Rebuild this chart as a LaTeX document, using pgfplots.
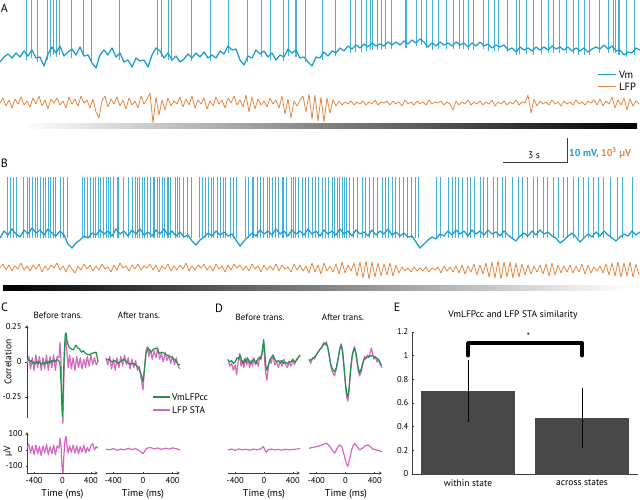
\documentclass[border=0pt]{standalone}
\usepackage{pgfplots}
\pgfplotsset{compat=1.18}
\usepackage{fontspec}
\setmainfont{PT Sans}
\definecolor{vmblue}{RGB}{30,158,208}
\definecolor{spkblue}{RGB}{70,175,218}
\definecolor{lfporange}{RGB}{228,136,66}
\definecolor{ccgreen}{RGB}{28,148,72}
\definecolor{stapink}{RGB}{214,104,192}
\definecolor{bargray}{RGB}{72,72,72}
\definecolor{axgray}{RGB}{60,60,60}
\newcommand{\fs}[1]{\fontsize{#1}{#1}\selectfont}
\pgfplotsset{
  every axis/.append style={/pgf/number format/assume math mode=true},
  small axis/.style={scale only axis, anchor=south west, clip=false,
     xmin=-500, xmax=500, axis line style={-, axgray, line width=0.5pt},
     tick style={axgray, line width=0.5pt}, major tick length=2pt,
     tick label style={font=\fs{8.5}}},
  corr axis/.style={small axis, height=93pt, ymin=-0.4, ymax=0.264},
  sta axis/.style={small axis, height=41pt, ymin=-145, ymax=112,
     axis x line=bottom, xtick={-400,0,400}, xticklabels={-400,0,400}},
  pinkline/.style={stapink, line width=1.2pt, line join=round},
  greenline/.style={ccgreen, line width=1.2pt, line join=round},
}
\begin{document}
\begin{tikzpicture}
\useasboundingbox (0,0) rectangle (640pt,499pt);
% ---------------- traces A and B (x and y in pixels, y downward)
\begin{axis}[at={(0pt,0pt)}, anchor=south west, scale only axis, width=640pt, height=499pt,
  xmin=0, xmax=640, ymin=0, ymax=499, y dir=reverse, hide axis]
% A spikes
\addplot[spkblue, line width=0.9pt, quiver={u=0, v=-\thisrow{y}}] table[x=x, y=y, row sep=\\] {
x y\\26 60\\31 58\\37 62\\47 60\\50 57\\53 55\\56 57\\59 55\\71 58\\83 55\\91 63\\119 60\\157 55\\161 57\\168 60\\171 61\\191 61\\210 61\\228 53\\247 62\\261 57\\270 60\\283 61\\288 56\\295 57\\296 57\\305 62\\322 60\\335 56\\350 53\\355 52\\361 52\\366 51\\370 50\\372 50\\377 50\\381 50\\385 49\\391 49\\405 48\\406 48\\416 46\\421 45\\426 48\\432 50\\438 49\\446 49\\453 49\\459 49\\463 49\\468 50\\473 50\\483 49\\488 51\\494 51\\498 51\\507 52\\516 55\\519 54\\526 54\\533 55\\541 54\\548 53\\553 53\\559 53\\566 53\\573 54\\578 55\\584 55\\589 55\\599 53\\608 53\\613 53\\615 53\\618 55\\619 55\\626 57\\634 55\\
};
% A Vm
\addplot[vmblue, line width=1.3pt, line join=round] table[header=false, x expr=\coordindex*4, y index=0, row sep=\\] {
62\\57\\54\\58\\53\\57\\51\\56\\50\\58\\57\\66\\54\\47\\53\\46\\56\\52\\49\\55\\47\\56\\55\\63\\68\\55\\50\\55\\48\\57\\53\\62\\60\\67\\58\\61\\60\\67\\55\\48\\51\\58\\53\\60\\56\\62\\59\\54\\58\\53\\57\\52\\58\\55\\58\\51\\54\\46\\50\\49\\60\\65\\56\\58\\50\\54\\51\\57\\53\\60\\55\\57\\49\\53\\50\\58\\57\\62\\66\\57\\58\\52\\56\\51\\53\\48\\51\\46\\49\\45\\48\\44\\47\\43\\46\\44\\46\\42\\45\\42\\45\\41\\44\\40\\43\\39\\42\\47\\43\\46\\42\\45\\43\\46\\42\\45\\43\\47\\43\\46\\42\\46\\44\\48\\45\\47\\45\\50\\48\\52\\47\\50\\48\\51\\47\\50\\47\\50\\46\\49\\47\\50\\47\\51\\48\\51\\48\\52\\49\\47\\49\\45\\49\\46\\51\\50\\55\\52\\53\\48\\50\\
};
% A LFP
\addplot[lfporange, line width=0.8pt, line join=round] table[header=false, x expr=\coordindex*3, y index=0, row sep=\\] {
103\\98\\106\\100\\108\\99\\104\\97\\105\\101\\107\\98\\104\\96\\106\\100\\109\\99\\103\\98\\105\\101\\108\\97\\104\\99\\106\\96\\103\\100\\108\\99\\112\\118\\101\\96\\107\\99\\104\\97\\106\\100\\109\\98\\105\\101\\108\\96\\104\\99\\93\\123\\97\\115\\100\\110\\98\\106\\101\\104\\97\\107\\99\\105\\96\\108\\100\\104\\98\\109\\101\\106\\97\\104\\100\\108\\98\\103\\96\\105\\100\\107\\95\\112\\97\\109\\99\\105\\101\\107\\98\\104\\100\\108\\96\\114\\99\\118\\101\\106\\100\\96\\112\\94\\119\\95\\121\\97\\122\\98\\113\\100\\106\\101\\105\\102\\104\\101\\105\\102\\104\\101\\105\\102\\104\\100\\105\\102\\103\\101\\105\\101\\104\\102\\106\\100\\104\\102\\105\\101\\104\\102\\105\\100\\104\\102\\103\\101\\105\\102\\104\\110\\101\\105\\102\\104\\100\\105\\102\\104\\101\\105\\102\\104\\100\\106\\102\\104\\101\\105\\102\\104\\100\\105\\102\\103\\95\\113\\99\\106\\101\\104\\102\\105\\100\\104\\102\\106\\101\\104\\102\\105\\100\\104\\102\\105\\101\\103\\100\\105\\99\\106\\101\\104\\97\\108\\100\\105\\98\\110\\99\\106\\101\\104\\
};
% B spikes
\addplot[spkblue, line width=0.9pt, quiver={u=0, v=-61}] table[header=false, x index=0, y expr=238, row sep=\\] {
7\\10\\13\\16\\23\\27\\29\\32\\35\\37\\40\\43\\45\\48\\50\\53\\55\\60\\63\\67\\82\\84\\87\\90\\93\\95\\98\\100\\103\\106\\108\\110\\113\\117\\118\\123\\128\\132\\135\\137\\139\\142\\144\\147\\150\\153\\154\\157\\159\\162\\164\\167\\168\\170\\175\\177\\179\\183\\187\\191\\199\\202\\205\\208\\211\\213\\217\\220\\223\\225\\230\\233\\236\\245\\248\\252\\253\\257\\260\\263\\267\\269\\272\\275\\278\\282\\283\\286\\291\\293\\295\\298\\302\\305\\308\\312\\315\\318\\322\\325\\328\\332\\334\\337\\339\\342\\344\\346\\349\\353\\357\\362\\365\\369\\373\\377\\382\\385\\388\\392\\395\\399\\403\\407\\411\\415\\418\\436\\440\\448\\452\\455\\458\\462\\467\\470\\474\\480\\483\\487\\493\\497\\502\\505\\512\\518\\522\\527\\533\\537\\543\\547\\553\\558\\563\\567\\573\\578\\583\\588\\593\\598\\603\\610\\617\\622\\632\\
};
% B Vm
\addplot[vmblue, line width=1.3pt, line join=round] table[header=false, x expr=\coordindex*4, y index=0, row sep=\\] {
238\\231\\235\\229\\234\\237\\230\\234\\228\\233\\230\\235\\229\\233\\236\\231\\235\\244\\248\\243\\240\\236\\238\\233\\235\\230\\234\\231\\236\\229\\234\\231\\236\\230\\234\\229\\235\\232\\236\\230\\234\\229\\235\\231\\236\\232\\237\\235\\241\\245\\240\\237\\233\\236\\231\\235\\232\\236\\234\\240\\246\\241\\237\\233\\236\\230\\234\\231\\235\\229\\234\\231\\236\\230\\234\\231\\235\\229\\234\\231\\236\\230\\234\\231\\235\\229\\234\\231\\236\\230\\234\\232\\236\\230\\235\\231\\234\\229\\235\\232\\236\\233\\237\\236\\242\\248\\244\\240\\237\\239\\234\\236\\231\\235\\230\\234\\231\\236\\230\\234\\231\\235\\230\\234\\232\\236\\231\\235\\238\\241\\236\\233\\236\\231\\235\\230\\234\\232\\236\\238\\243\\240\\236\\233\\237\\242\\238\\234\\237\\232\\236\\231\\235\\238\\241\\237\\234\\236\\231\\235\\232\\
};
% B LFP
\addplot[lfporange, line width=0.8pt, line join=round] table[header=false, x expr=\coordindex*3, y index=0, row sep=\\] {
268\\264\\270\\265\\271\\266\\269\\263\\270\\266\\271\\265\\269\\264\\272\\266\\270\\265\\268\\263\\270\\266\\272\\265\\269\\273\\266\\270\\264\\269\\265\\271\\266\\270\\264\\269\\267\\272\\265\\270\\263\\268\\266\\271\\265\\269\\264\\270\\266\\268\\264\\270\\265\\272\\266\\269\\264\\271\\266\\270\\265\\269\\263\\271\\266\\270\\265\\268\\264\\270\\266\\271\\264\\269\\266\\272\\265\\270\\264\\268\\265\\270\\266\\271\\264\\269\\266\\272\\265\\270\\266\\270\\264\\271\\265\\269\\267\\272\\264\\270\\265\\271\\266\\273\\263\\272\\265\\274\\263\\271\\266\\272\\264\\274\\262\\273\\265\\271\\263\\276\\262\\278\\261\\279\\262\\277\\263\\276\\264\\275\\263\\276\\265\\273\\267\\271\\268\\272\\267\\271\\268\\271\\267\\272\\268\\270\\267\\273\\266\\271\\267\\272\\266\\273\\265\\274\\266\\272\\264\\275\\265\\274\\263\\277\\262\\278\\261\\279\\262\\277\\262\\278\\263\\277\\264\\275\\265\\274\\266\\272\\265\\274\\264\\276\\263\\275\\265\\273\\266\\272\\265\\273\\266\\272\\264\\274\\265\\273\\267\\271\\266\\273\\264\\275\\263\\276\\262\\277\\263\\276\\262\\277\\264\\275\\
};
\end{axis}
% ---------------- C: before, correlation
\begin{axis}[corr axis, at={(27pt,81pt)}, width=71pt, axis y line=left, axis x line=none,
  ytick={-0.25,0,0.25}, yticklabels={-0.25,0,0.25}, tick align=outside]
\addplot[pinkline] coordinates {(-500,-0.01)(-475,0.04)(-450,-0.05)(-425,0.03)(-400,-0.06)(-375,0.05)(-350,-0.04)(-325,0.04)(-300,-0.06)(-275,0.03)(-250,-0.05)(-225,0.05)(-200,-0.06)(-175,0.04)(-150,-0.04)(-125,0.05)(-100,-0.06)(-75,0.04)(-50,0.03)(-35,0.14)(-20,0.0)(-10,-0.25)(5,-0.44)(20,-0.1)(35,0.12)(50,0.17)(65,0.05)(80,-0.04)(100,0.05)(125,-0.05)(150,0.03)(175,-0.06)(200,0.04)(225,-0.04)(250,0.03)(275,-0.05)(300,0.02)(325,-0.04)(350,0.04)(375,-0.03)(400,0.05)(425,-0.02)(450,0.03)(475,-0.02)(500,0.0)};
\addplot[greenline] coordinates {(-500,0.03)(-480,0.02)(-460,0.0)(-440,0.01)(-420,-0.01)(-400,0.0)(-380,-0.015)(-360,0.005)(-340,-0.01)(-320,0.0)(-300,-0.02)(-280,-0.005)(-260,-0.015)(-240,0.0)(-220,-0.01)(-200,0.005)(-180,-0.01)(-160,0.01)(-140,0.0)(-120,0.015)(-100,0.0)(-80,0.02)(-60,0.01)(-40,0.0)(-30,-0.05)(-20,-0.15)(-10,-0.3)(0,-0.39)(10,-0.2)(20,0.0)(30,0.12)(40,0.2)(50,0.207)(65,0.15)(82,0.12)(100,0.1)(120,0.095)(150,0.086)(170,0.1)(190,0.12)(215,0.1)(237,0.095)(270,0.07)(295,0.08)(317,0.064)(345,0.055)(378,0.05)(405,0.06)(434,0.064)(472,0.07)(490,0.03)(500,0.0)};
\end{axis}
% C: after, correlation
\begin{axis}[corr axis, at={(106pt,81pt)}, width=74pt, hide axis]
\addplot[pinkline] coordinates {(-500,0.03)(-475,-0.02)(-450,0.04)(-425,-0.05)(-400,0.02)(-375,-0.06)(-350,0.03)(-325,-0.04)(-300,0.04)(-275,-0.03)(-250,0.05)(-225,-0.02)(-200,0.03)(-175,-0.05)(-150,0.02)(-125,-0.04)(-100,0.01)(-75,-0.06)(-50,-0.03)(-25,-0.12)(0,-0.2)(20,-0.05)(40,0.08)(60,0.11)(80,0.04)(100,0.09)(125,0.02)(150,0.08)(175,0.03)(200,0.1)(225,0.02)(250,0.06)(275,0.0)(300,0.07)(325,0.01)(350,0.05)(375,-0.01)(400,0.04)(425,-0.02)(450,0.03)(475,-0.03)(500,-0.05)};
\addplot[greenline] coordinates {(-500,0.014)(-460,0.02)(-420,0.0)(-380,0.01)(-340,-0.01)(-300,0.005)(-260,0.02)(-220,0.0)(-180,-0.015)(-140,-0.01)(-100,-0.02)(-60,-0.04)(-30,-0.08)(0,-0.14)(20,-0.05)(40,0.06)(70,0.1)(90,0.08)(110,0.07)(140,0.09)(185,0.1)(220,0.06)(250,0.07)(290,0.06)(320,0.05)(360,0.04)(400,0.03)(440,0.01)(478,-0.02)(500,-0.02)};
\end{axis}
% D: before, correlation
\begin{axis}[corr axis, at={(228pt,81pt)}, width=72pt, hide axis]
\addplot[pinkline] coordinates {(-500,0.02)(-475,-0.03)(-450,-0.01)(-425,-0.06)(-400,-0.02)(-380,-0.09)(-360,0.0)(-340,0.06)(-320,-0.03)(-300,0.01)(-280,-0.04)(-260,0.03)(-240,-0.02)(-220,0.02)(-200,-0.04)(-180,0.01)(-160,-0.03)(-140,0.03)(-120,-0.02)(-100,0.01)(-80,-0.03)(-60,0.04)(-40,0.02)(-20,0.08)(-5,0.13)(10,0.0)(25,-0.08)(40,-0.13)(60,-0.04)(80,0.02)(100,-0.01)(125,0.05)(150,-0.02)(175,0.0)(200,-0.04)(225,0.01)(250,-0.03)(275,0.02)(300,-0.02)(325,-0.04)(350,0.0)(375,-0.03)(400,0.01)(425,-0.02)(450,0.02)(475,0.03)(500,0.05)};
\addplot[greenline] coordinates {(-500,0.014)(-475,0.0)(-450,0.01)(-425,-0.01)(-400,0.0)(-375,0.03)(-350,0.02)(-330,0.05)(-310,0.01)(-290,-0.01)(-270,0.02)(-250,0.0)(-230,0.03)(-210,0.01)(-190,-0.01)(-170,0.0)(-150,0.02)(-130,0.01)(-110,-0.01)(-90,0.02)(-70,0.03)(-50,0.02)(-30,0.06)(-15,0.12)(-5,0.16)(10,0.08)(25,-0.03)(40,-0.06)(60,-0.02)(80,0.01)(100,0.03)(125,0.05)(150,0.02)(175,0.0)(200,0.01)(225,-0.01)(250,0.01)(275,-0.01)(300,0.0)(325,-0.015)(350,0.005)(375,0.0)(400,0.02)(425,0.0)(450,0.01)(475,0.03)(500,0.05)};
\end{axis}
% D: after, correlation
\begin{axis}[corr axis, at={(309pt,81pt)}, width=73pt, hide axis]
\addplot[pinkline] coordinates {(-500,0.02)(-475,-0.01)(-450,0.03)(-425,0.02)(-400,0.05)(-375,0.07)(-350,0.09)(-325,0.1)(-300,0.14)(-275,0.12)(-264,0.145)(-240,0.09)(-220,0.03)(-200,-0.03)(-180,-0.07)(-151,-0.1)(-125,-0.05)(-100,0.02)(-80,0.09)(-59,0.13)(-40,0.07)(-20,-0.05)(0,-0.17)(15,-0.25)(32,-0.28)(50,-0.2)(70,-0.07)(95,0.05)(123,0.11)(145,0.05)(170,-0.05)(192,-0.1)(215,-0.07)(240,-0.01)(260,0.04)(280,0.02)(300,0.05)(320,0.03)(340,0.07)(355,0.1)(370,0.06)(390,0.02)(410,0.04)(430,0.0)(450,0.02)(475,-0.02)(500,-0.04)};
\addplot[greenline] coordinates {(-500,0.01)(-460,0.02)(-425,0.035)(-390,0.06)(-356,0.086)(-320,0.11)(-290,0.13)(-264,0.135)(-240,0.1)(-220,0.04)(-205,-0.01)(-180,-0.05)(-151,-0.07)(-125,-0.04)(-100,0.03)(-80,0.09)(-59,0.12)(-40,0.08)(-20,-0.03)(0,-0.15)(15,-0.22)(32,-0.25)(50,-0.18)(70,-0.05)(95,0.06)(123,0.1)(145,0.06)(170,-0.03)(192,-0.08)(215,-0.05)(240,0.0)(270,0.03)(300,0.035)(330,0.04)(352,0.045)(380,0.04)(400,0.035)(420,0.03)(450,0.02)(489,-0.02)(500,-0.02)};
\end{axis}
% ---------------- STA axes
\begin{axis}[sta axis, at={(27pt,26pt)}, width=71pt, axis y line=left,
  ytick={-100,0,100}, yticklabels={-100,0,100}]
\addplot[pinkline] coordinates {(-500,10)(-475,35)(-450,-20)(-425,25)(-400,-30)(-375,30)(-350,-25)(-325,20)(-300,-35)(-275,25)(-250,-20)(-225,35)(-200,-30)(-175,20)(-150,-25)(-125,30)(-100,-30)(-75,25)(-50,10)(-35,75)(-20,20)(-10,-80)(0,-140)(8,-145)(20,-30)(35,60)(50,85)(65,20)(80,-20)(100,25)(125,-15)(150,30)(175,-20)(200,25)(225,-25)(250,20)(275,-15)(300,30)(325,-20)(350,15)(375,-10)(400,25)(425,40)(450,0)(475,20)(500,10)};
\end{axis}
\begin{axis}[sta axis, at={(106pt,26pt)}, width=74pt, axis y line=none]
\addplot[pinkline] coordinates {(-500,5)(-450,0)(-400,8)(-350,-3)(-300,5)(-250,0)(-200,10)(-150,2)(-100,8)(-50,-5)(-20,-15)(0,-25)(20,-10)(50,10)(100,15)(150,5)(200,12)(250,3)(300,10)(350,5)(400,12)(450,8)(500,0)};
\end{axis}
\begin{axis}[sta axis, at={(228pt,26pt)}, width=72pt, axis y line=none]
\addplot[pinkline] coordinates {(-500,0)(-450,5)(-400,-3)(-350,6)(-300,0)(-250,4)(-200,-2)(-150,5)(-100,0)(-50,5)(-10,20)(15,0)(30,-15)(60,0)(100,5)(150,0)(200,3)(250,-2)(300,4)(350,0)(400,2)(450,5)(500,8)};
\end{axis}
\begin{axis}[sta axis, at={(309pt,26pt)}, width=73pt, axis y line=none]
\addplot[pinkline] coordinates {(-500,10)(-450,15)(-400,20)(-356,25)(-300,35)(-264,42)(-230,30)(-196,10)(-151,-21)(-120,5)(-82,31)(-50,20)(-20,-30)(10,-85)(32,-104)(60,-50)(90,10)(123,42)(160,20)(192,0)(230,10)(270,25)(306,31)(340,20)(374,5)(420,0)(460,-5)(500,-12)};
\end{axis}
% ---------------- E bar chart
\begin{axis}[at={(412.7pt,25pt)}, anchor=south west, scale only axis, width=225.3pt, height=142pt,
  xmin=0.515, xmax=2.49, ymin=0, ymax=1.2, clip=false,
  axis x line=bottom, axis y line=left, axis line style={-, axgray, line width=0.5pt},
  ybar, bar width=0.815,
  xtick={1,2}, xticklabels={within state, across states}, xtick style={draw=none},
  xticklabel style={font=\fs{9.5}},
  ytick={0,0.2,0.4,0.6,0.8,1,1.2}, yticklabels={0,0.2,0.4,0.6,0.8,1,1.2},
  yticklabel style={font=\fs{8.5}}, ytick style={axgray, line width=0.5pt}, major tick length=2pt]
\addplot[fill=bargray, draw=bargray, error bars/.cd, y dir=both, y explicit,
  error bar style={line width=0.6pt, black}, error mark options={line width=0.6pt, mark size=2pt, black}]
  coordinates {(1,0.70) +- (0,0.247) (2,0.47) +- (0,0.236)};
\draw[line width=3.6pt, line join=round, line cap=round] (axis cs:1,1.0) -- (axis cs:1,1.107) -- (axis cs:2,1.107) -- (axis cs:2,1.0);
\node[font=\fs{9}] at (axis cs:1.53,1.16) {*};
\end{axis}
% ---------------- annotations (pixel coordinates, y downward)
\begin{scope}[shift={(0pt,499pt)}, x=1pt, y=-1pt]
\shade[left color=white, right color=black] (23,124) rectangle (637,129);
\shade[left color=black, right color=white] (3,285) rectangle (625,290);
\node[font=\fs{12}] at (4.5,8) {A};
\node[font=\fs{12}] at (4.5,163) {B};
\node[font=\fs{12}] at (4.5,307) {C};
\node[font=\fs{12}] at (219,308) {D};
\node[font=\fs{12}] at (397,307) {E};
\draw[vmblue, line width=1pt] (598,75) -- (616,75);
\draw[lfporange, line width=1pt] (598,87) -- (616,87);
\node[font=\fs{10.5}, anchor=west, inner sep=1pt] at (618,75) {Vm};
\node[font=\fs{10.5}, anchor=west, inner sep=1pt] at (618,87) {LFP};
\draw[axgray, line width=0.7pt] (503,162) -- (567,162) -- (567,138);
\node[font=\fs{9.5}] at (534,155) {3 s};
\node[font=\bfseries\fs{10}, anchor=west, inner sep=1pt] at (568,153) {\textcolor{vmblue}{10 mV,} \textcolor{lfporange}{10\textsuperscript{3} µV}};
\node[font=\fs{9}] at (58,315) {Before trans.};
\node[font=\fs{9}] at (139,315) {After trans.};
\node[font=\fs{9}] at (260,317) {Before trans.};
\node[font=\fs{9}] at (343,317) {After trans.};
\node[font=\fs{9.5}] at (513,315) {VmLFPcc and LFP STA similarity};
\node[font=\fs{9.5}, rotate=90] at (8,362) {Correlation};
\node[font=\fs{9.5}, rotate=90] at (8,451) {µV};
\foreach \xx in {62.5,143,264,346} {\node[font=\fs{10}] at (\xx,494) {Time (ms)};}
\draw[ccgreen, line width=2pt] (153,397) -- (170,397);
\draw[stapink, line width=2pt] (153,410) -- (170,410);
\node[font=\fs{9.5}, anchor=west, inner sep=1pt] at (171,397) {VmLFPcc};
\node[font=\fs{9.5}, anchor=west, inner sep=1pt] at (171,410) {LFP STA};
\end{scope}
\end{tikzpicture}
\end{document}
